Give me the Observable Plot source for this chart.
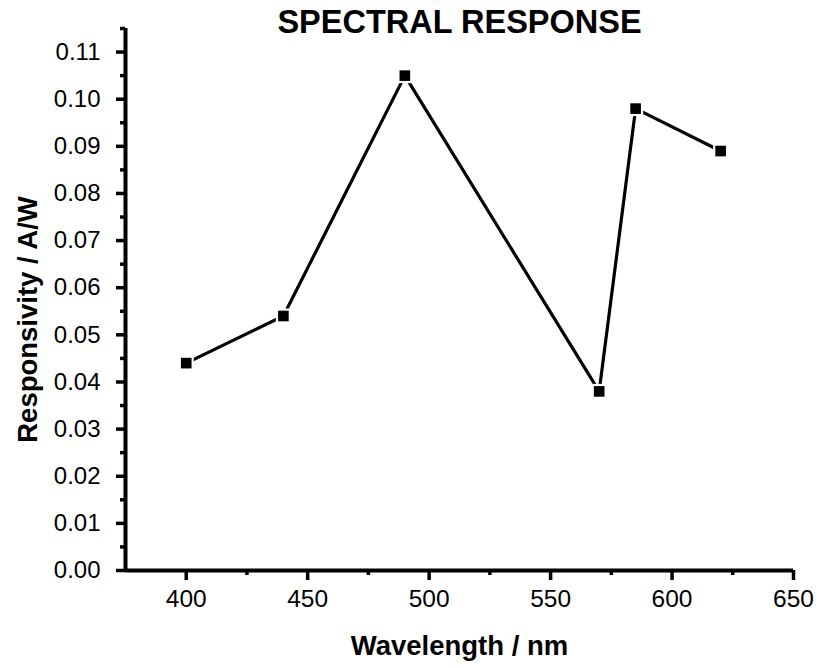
<!DOCTYPE html>
<html>
<head>
<meta charset="utf-8">
<script src="https://cdn.jsdelivr.net/npm/d3@7"></script>
<script src="https://cdn.jsdelivr.net/npm/@observablehq/plot@0.6"></script>
<style>
  html, body { margin: 0; padding: 0; background: #fff; }
  svg { display: block; }
</style>
</head>
<body>
<div id="chart"></div>
<script>
const wavelength = [400, 440, 490, 570, 585, 620];
const responsivity = [0.044, 0.054, 0.105, 0.038, 0.098, 0.089];
const xMajor = [400, 450, 500, 550, 600, 650];
const xMinor = [425, 475, 525, 575, 625];
const yMajor = [0, 0.01, 0.02, 0.03, 0.04, 0.05, 0.06, 0.07, 0.08, 0.09, 0.10, 0.11];
const yMinor = [0.005, 0.015, 0.025, 0.035, 0.045, 0.055, 0.065, 0.075, 0.085, 0.095, 0.105, 0.115];
const title = "SPECTRAL RESPONSE";
const xLabel = "Wavelength / nm";
const yLabel = "Responsivity / A/W";

const data = wavelength.map((w, i) => ({w, r: responsivity[i]}));
const font = "Liberation Sans, Arial, sans-serif";

const chart = Plot.plot({
  width: 820,
  height: 668,
  marginLeft: 125,
  marginRight: 27,
  marginTop: 28,
  marginBottom: 98,
  style: {fontFamily: font, color: "#000", background: "#fff"},
  x: {domain: [375, 650]},
  y: {domain: [0, 0.115]},
  marks: [
    Plot.axisX({ticks: xMajor, tickSize: 10, tickPadding: 9, strokeWidth: 3.5, fontSize: 24.5, fill: "#000", label: null}),
    Plot.axisX({ticks: xMinor, tickSize: 5, strokeWidth: 3.5, text: null, label: null}),
    Plot.axisY({ticks: yMajor, tickSize: 9, tickPadding: 16, strokeWidth: 3.5, fontSize: 24, fill: "#000", tickFormat: d3.format(".2f"), label: null}),
    Plot.axisY({ticks: yMinor, tickSize: 5, strokeWidth: 3.5, text: null, label: null}),
    Plot.ruleX([375], {y1: 0, y2: 0.115, stroke: "#000", strokeWidth: 4}),
    Plot.ruleY([0], {x1: 375, x2: 650, stroke: "#000", strokeWidth: 4}),
    Plot.line(data, {x: "w", y: "r", stroke: "#000", strokeWidth: 3.2}),
    Plot.dot(data, {x: "w", y: "r", symbol: "square", r: 8.5, fill: "#fff"}),
    Plot.dot(data, {x: "w", y: "r", symbol: "square", r: 6, fill: "#000"}),
    Plot.text([title], {frameAnchor: "top", dy: -19, text: d => d, fontSize: 32.5, fontWeight: "bold", fill: "#000"}),
    Plot.text([xLabel], {frameAnchor: "bottom", dy: 84, text: d => d, fontSize: 27.5, fontWeight: "bold", fill: "#000"}),
    Plot.text([yLabel], {frameAnchor: "left", dx: -97, dy: 20, rotate: -90, textAnchor: "middle", text: d => d, fontSize: 27.5, fontWeight: "bold", fill: "#000"})
  ]
});
document.getElementById("chart").append(chart);
</script>
</body>
</html>
